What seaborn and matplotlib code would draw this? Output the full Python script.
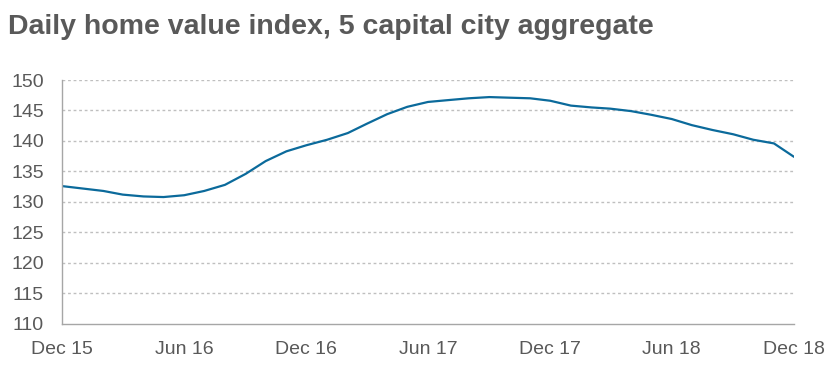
import pandas as pd
import matplotlib.pyplot as plt
import matplotlib.dates as mdates
import seaborn as sns

# monthly readings of the daily index (Dec 2015 - Dec 2018)
months = pd.date_range("2015-12-01", "2018-12-01", freq="MS")
index_values = [132.6, 132.2, 131.8, 131.2, 130.9, 130.8, 131.1, 131.8, 132.8, 134.6,
                136.7, 138.3, 139.3, 140.2, 141.3, 142.8, 144.4, 145.6, 146.4, 146.7,
                147.0, 147.2, 147.1, 147.0, 146.6, 145.8, 145.5, 145.3, 144.9, 144.3,
                143.6, 142.6, 141.8, 141.1, 140.2, 139.6, 137.4]
y_ticks = [110, 115, 120, 125, 130, 135, 140, 145, 150]
x_ticks = pd.date_range("2015-12-01", "2018-12-01", freq="6MS")

df = pd.DataFrame({"date": months, "value": index_values})

sns.set_style("white")
plt.rcParams["font.family"] = ["Liberation Sans", "DejaVu Sans"]
txt = "#595959"
axis_col = "#a6a6a6"

fig = plt.figure(figsize=(8.34, 3.81), dpi=100)
ax = fig.add_axes([0.0743, 0.150, 0.8777, 0.640])

sns.lineplot(data=df, x="date", y="value", color="#0b6a9b", linewidth=1.6, ax=ax)

ax.set_xlim(x_ticks[0], x_ticks[-1])
ax.set_ylim(110, 150)
ax.set_yticks(y_ticks)
ax.set_xticks(x_ticks)
ax.xaxis.set_major_formatter(mdates.DateFormatter("%b %y"))
ax.set_xlabel("")
ax.set_ylabel("")

for y in y_ticks[1:]:
    ax.axhline(y, color="#bfbfbf", linestyle=(0, (2, 2)), linewidth=1.0, zorder=0)

for s in ["top", "right"]:
    ax.spines[s].set_visible(False)
for s in ["left", "bottom"]:
    ax.spines[s].set_color(axis_col)
    ax.spines[s].set_linewidth(1.0)

ax.tick_params(axis="both", colors=axis_col, labelcolor=txt, labelsize=14,
               length=5, width=1.0, direction="out")
ax.tick_params(axis="y", pad=8)
ax.tick_params(axis="x", pad=7)

fig.text(0.01, 0.93, "Daily home value index, 5 capital city aggregate",
         fontsize=20.5, fontweight="bold", color=txt, va="center", ha="left")

fig.savefig("out.png", dpi=100)
